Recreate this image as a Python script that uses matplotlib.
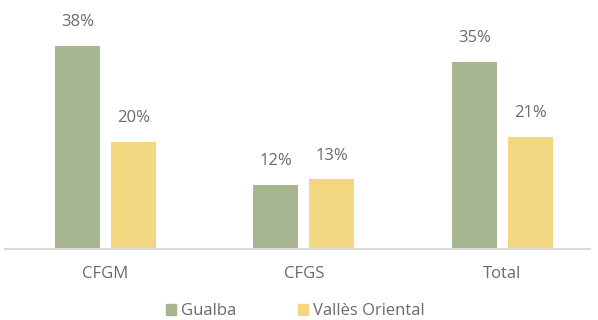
import matplotlib
matplotlib.use("Agg")
import matplotlib.pyplot as plt
import numpy as np
from matplotlib.patches import Patch

categories = ["CFGM", "CFGS", "Total"]
series_names = ["Gualba", "Vallès Oriental"]
gualba = [38, 12, 35]
valles = [20, 13, 21]
colors = ["#a7b591", "#f2d780"]
text_color = "#6a6a6a"

plt.rcParams["font.family"] = ["Open Sans", "DejaVu Sans"]

fig = plt.figure(figsize=(5.98, 3.20), dpi=100)
ax = fig.add_axes([5 / 598, 0.222, 585 / 598, 0.778])

x = np.arange(len(categories))
w = 0.227
gap = 0.055
for vals, off, c in [(gualba, -(w + gap) / 2, colors[0]), (valles, (w + gap) / 2, colors[1])]:
    bars = ax.bar(x + off, vals, width=w, color=c)
    for b, v in zip(bars, vals):
        ax.text(b.get_x() + b.get_width() / 2, v + 2.9, f"{v}%",
                ha="center", va="bottom", fontsize=12, color=text_color)

ax.set_xlim(-0.506, 2.441)
ax.set_ylim(0, 46.5)
ax.set_yticks([])
ax.set_xticks(x)
ax.set_xticklabels(categories, fontsize=12, color=text_color)
ax.tick_params(axis="x", length=0, pad=12)
for s in ["top", "right", "left"]:
    ax.spines[s].set_visible(False)
ax.spines["bottom"].set_color("#d9d9d9")
ax.spines["bottom"].set_linewidth(1.5)

handles = [Patch(color=c) for c in colors]
fig.legend(handles, series_names, loc="center", bbox_to_anchor=(0.494, 0.027),
           ncol=2, frameon=False, fontsize=12, labelcolor=text_color,
           handlelength=0.6, handleheight=0.6, handletextpad=0.3, columnspacing=3.7)

fig.savefig("out.png", dpi=100)
